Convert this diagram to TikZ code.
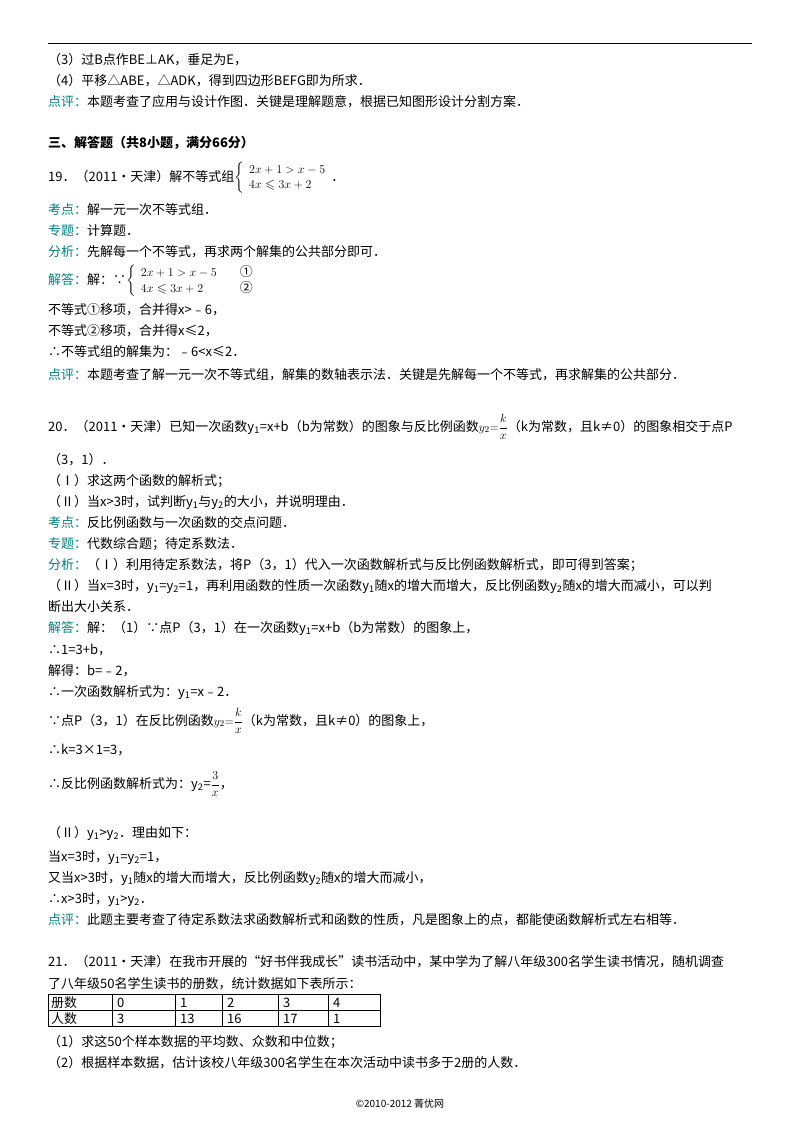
\documentclass[tikz,border=0pt]{standalone}
\usepackage{fontspec}
\usepackage{amssymb}
\setmainfont{Noto Sans CJK SC}
\definecolor{lab}{RGB}{0,128,128}
\newcommand{\lb}[1]{\textcolor{lab}{#1}}
\newcommand{\sub}[1]{\textsubscript{#1}}
\begin{document}
\begin{tikzpicture}[x=1pt,y=-1pt,
  t/.style={anchor=base west,inner sep=0pt,font=\fontsize{13}{15}\selectfont}]
\useasboundingbox (0,0) rectangle (800,1132);
\draw[line width=0.8pt] (48,43) -- (752,43);
\node[t] (l1) at (48,64) {（3）过B点作BE⊥AK，垂足为E，};
\node[t] (l2) at (48,85) {（4）平移△ABE，△ADK，得到四边形BEFG即为所求．};
\node[t] (l3) at (48,106) {\lb{点评：}本题考查了应用与设计作图．关键是理解题意，根据已知图形设计分割方案．};
\node[t,font=\fontsize{13}{15}\selectfont\bfseries] (h) at (48,147) {三、解答题（共8小题，满分66分）};
\node[t] (q19) at (48,181) {19．（2011•天津）解不等式组$\left\{\begin{array}{l}2x+1>x-5\\4x\leqslant 3x+2\end{array}\right.$．};
\node[t] (a1) at (48,214) {\lb{考点：}解一元一次不等式组．};
\node[t] (a2) at (48,235) {\lb{专题：}计算题．};
\node[t] (a3) at (48,256) {\lb{分析：}先解每一个不等式，再求两个解集的公共部分即可．};
\node[t] (a4) at (48,284) {\lb{解答：}解：∵$\left\{\begin{array}{ll}2x+1>x-5&\quad\mbox{①}\\4x\leqslant 3x+2&\quad\mbox{②}\end{array}\right.$};
\node[t] (a5) at (48,314) {不等式①移项，合并得x>﹣6，};
\node[t] (a6) at (48,335) {不等式②移项，合并得x≤2，};
\node[t] (a7) at (48,356) {∴不等式组的解集为：﹣6<x≤2．};
\node[t] (a8) at (48,379) {\lb{点评：}本题考查了解一元一次不等式组，解集的数轴表示法．关键是先解每一个不等式，再求解集的公共部分．};
\node[t] (q20) at (48,431) {20．（2011•天津）已知一次函数y\sub{1}=x+b（b为常数）的图象与反比例函数$\displaystyle y_2{=}\frac{k}{x}$（k为常数，且k≠0）的图象相交于点P};
\node[t] (b1) at (48,464) {（3，1）．};
\node[t] (b2) at (48,485) {（Ⅰ）求这两个函数的解析式；};
\node[t] (b3) at (48,506) {（Ⅱ）当x>3时，试判断y\sub{1}与y\sub{2}的大小，并说明理由．};
\node[t] (b4) at (48,527) {\lb{考点：}反比例函数与一次函数的交点问题．};
\node[t] (b5) at (48,548) {\lb{专题：}代数综合题；待定系数法．};
\node[t] (b6) at (48,569) {\lb{分析：}（Ⅰ）利用待定系数法，将P（3，1）代入一次函数解析式与反比例函数解析式，即可得到答案；};
\node[t] (b7) at (48,590) {（Ⅱ）当x=3时，y\sub{1}=y\sub{2}=1，再利用函数的性质一次函数y\sub{1}随x的增大而增大，反比例函数y\sub{2}随x的增大而减小，可以判};
\node[t] (b8) at (48,611) {断出大小关系．};
\node[t] (c1) at (48,632) {\lb{解答：}解：（1）∵点P（3，1）在一次函数y\sub{1}=x+b（b为常数）的图象上，};
\node[t] (c2) at (48,654) {∴1=3+b，};
\node[t] (c3) at (48,675) {解得：b=﹣2，};
\node[t] (c4) at (48,696) {∴一次函数解析式为：y\sub{1}=x﹣2．};
\node[t] (c5) at (48,725) {∵点P（3，1）在反比例函数$\displaystyle y_2{=}\frac{k}{x}$（k为常数，且k≠0）的图象上，};
\node[t] (c6) at (48,754) {∴k=3×1=3，};
\node[t] (c7) at (48,788) {∴反比例函数解析式为：y\sub{2}=$\displaystyle\frac{3}{x}$，};
\node[t] (d1) at (48,837) {（Ⅱ）y\sub{1}>y\sub{2}．理由如下：};
\node[t] (d2) at (48,861) {当x=3时，y\sub{1}=y\sub{2}=1，};
\node[t] (d3) at (48,882) {又当x>3时，y\sub{1}随x的增大而增大，反比例函数y\sub{2}随x的增大而减小，};
\node[t] (d4) at (48,903) {∴x>3时，y\sub{1}>y\sub{2}．};
\node[t] (d5) at (48,924) {\lb{点评：}此题主要考查了待定系数法求函数解析式和函数的性质，凡是图象上的点，都能使函数解析式左右相等．};
\node[t] (q21) at (48,966) {21．（2011•天津）在我市开展的“好书伴我成长”读书活动中，某中学为了解八年级300名学生读书情况，随机调查};
\node[t] (e1) at (48,988) {了八年级50名学生读书的册数，统计数据如下表所示：};
% table
\draw[line width=0.6pt] (48,994) rectangle (380,1026);
\draw[line width=0.6pt] (48,1010) -- (380,1010);
\foreach \x in {112,175,222,278,328} \draw[line width=0.6pt] (\x,994) -- (\x,1026);
\node[t] (r1) at (51,1007) {册数};
\node[t] (r2) at (51,1023) {人数};
\foreach \x/\a/\b in {117/0/3,180/1/13,227/2/16,283/3/17,333/4/1}{
  \node[t] at (\x,1007) {\a};
  \node[t] at (\x,1023) {\b};}
\node[t] (f1) at (48,1046) {（1）求这50个样本数据的平均数、众数和中位数；};
\node[t] (f2) at (48,1067) {（2）根据样本数据，估计该校八年级300名学生在本次活动中读书多于2册的人数．};
\node[anchor=base,inner sep=0pt,font=\fontsize{10}{12}\selectfont] (ft) at (400,1107) {©2010-2012 菁优网};
\end{tikzpicture}
\end{document}
